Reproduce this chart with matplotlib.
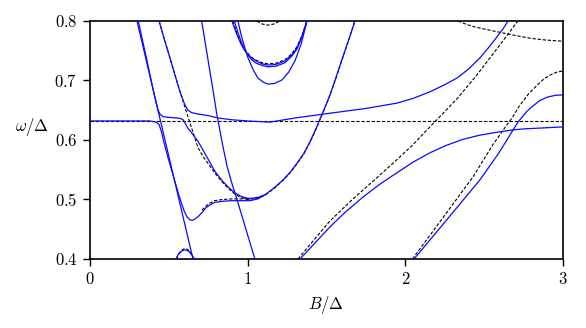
import matplotlib
matplotlib.use("Agg")
import matplotlib.pyplot as plt
from matplotlib.ticker import FuncFormatter

plt.rcParams['mathtext.fontset'] = 'cm'
plt.rcParams['font.family'] = ['DejaVu Serif']

# ---- values (B/Delta, omega/Delta) ----
# dashed (uncoupled) branches
flat_B = [0.0, 3.0]
flat_w = [0.632, 0.632]

d2_B = [0.438, 0.507, 0.571, 0.630, 0.685, 0.720, 0.748, 0.793, 0.840, 0.880, 0.919, 0.960, 1.000,
        1.060, 1.110, 1.170, 1.224, 1.270, 1.313, 1.355, 1.395, 1.435, 1.471, 1.522, 1.560, 1.600, 1.640, 1.680]
d2_w = [0.800, 0.738, 0.681, 0.632, 0.587, 0.571, 0.561, 0.544, 0.529, 0.518, 0.509, 0.503, 0.500,
        0.502, 0.507, 0.519, 0.532, 0.545, 0.560, 0.576, 0.596, 0.619, 0.642, 0.675, 0.704, 0.736, 0.767, 0.800]

hump_d_B = [0.710, 0.735, 0.761, 0.790, 0.840, 0.900, 0.960, 1.015, 1.065]
hump_d_w = [0.482, 0.489, 0.494, 0.498, 0.500, 0.501, 0.501, 0.501, 0.504]

bump_d_B = [0.550, 0.560, 0.577, 0.595, 0.612, 0.630, 0.646, 0.658]
bump_d_w = [0.400, 0.408, 0.414, 0.417, 0.417, 0.414, 0.407, 0.400]

arc_d_B = [1.059, 1.091, 1.129, 1.167, 1.205]
arc_d_w = [0.800, 0.795, 0.793, 0.795, 0.800]

u_d_B = [0.905, 0.935, 0.963, 0.985, 1.015, 1.046, 1.090, 1.129, 1.180, 1.237, 1.280, 1.313, 1.345, 1.376]
u_d_w = [0.800, 0.777, 0.760, 0.751, 0.741, 0.735, 0.730, 0.728, 0.729, 0.735, 0.745, 0.757, 0.776, 0.800]

d4_B = [1.319, 1.420, 1.522, 1.660, 1.800, 1.930, 2.048, 2.137, 2.200, 2.330, 2.450, 2.580, 2.714]
d4_w = [0.400, 0.432, 0.464, 0.499, 0.532, 0.563, 0.592, 0.617, 0.634, 0.670, 0.708, 0.753, 0.800]

d5_B = [2.045, 2.240, 2.429, 2.555, 2.640, 2.682, 2.720, 2.780, 2.835, 2.880, 2.917, 2.960, 3.000]
d5_w = [0.400, 0.470, 0.538, 0.592, 0.624, 0.639, 0.656, 0.677, 0.692, 0.703, 0.709, 0.714, 0.716]

d6_B = [2.334, 2.390, 2.441, 2.510, 2.581, 2.690, 2.790, 2.890, 3.000]
d6_w = [0.800, 0.794, 0.790, 0.786, 0.782, 0.776, 0.771, 0.768, 0.766]

# solid (coupled) branches
s1_B = [0.298, 0.653]
s1_w = [0.800, 0.400]

s2_B = [0.000, 0.380, 0.420, 0.438, 0.452, 0.465, 0.495, 0.528, 0.555, 0.578, 0.598, 0.615, 0.632,
        0.648, 0.665, 0.685, 0.710, 0.735, 0.761, 0.790, 0.840, 0.900, 0.960, 1.015, 1.065, 1.110,
        1.170, 1.224, 1.270, 1.313, 1.355, 1.395, 1.435, 1.471, 1.500, 1.522, 1.560, 1.600, 1.640, 1.680]
s2_w = [0.632, 0.632, 0.630, 0.626, 0.615, 0.600, 0.570, 0.540, 0.515, 0.495, 0.480, 0.471, 0.466,
        0.465, 0.467, 0.471, 0.478, 0.486, 0.491, 0.495, 0.497, 0.498, 0.498, 0.498, 0.501, 0.508,
        0.520, 0.533, 0.546, 0.561, 0.577, 0.597, 0.620, 0.643, 0.661, 0.676, 0.705, 0.737, 0.768, 0.800]

x_B = [0.306, 0.360, 0.400, 0.420, 0.432, 0.445, 0.465, 0.500, 0.550, 0.575, 0.590, 0.602, 0.620,
       0.645, 0.687, 0.740, 0.793, 0.840, 0.880, 0.919, 0.960, 1.000, 1.025, 1.060, 1.110]
x_w = [0.800, 0.735, 0.685, 0.662, 0.650, 0.643, 0.639, 0.638, 0.637, 0.636, 0.634, 0.629, 0.620,
       0.612, 0.597, 0.572, 0.547, 0.531, 0.520, 0.511, 0.505, 0.502, 0.502, 0.503, 0.508]

th_B = [0.438, 0.470, 0.507, 0.540, 0.571, 0.600, 0.621, 0.645, 0.678, 0.750, 0.812, 0.900, 1.000,
        1.141, 1.300, 1.522, 1.750, 1.947, 2.050, 2.156, 2.250, 2.327, 2.400, 2.473, 2.530, 2.580,
        2.620, 2.651]
th_w = [0.800, 0.770, 0.738, 0.708, 0.681, 0.660, 0.650, 0.646, 0.644, 0.641, 0.637, 0.634, 0.632,
        0.630, 0.637, 0.645, 0.653, 0.662, 0.670, 0.681, 0.693, 0.704, 0.719, 0.738, 0.756, 0.773,
        0.787, 0.800]

s3_B = [0.708, 0.730, 0.755, 0.780, 0.803, 0.840, 0.870, 0.900, 0.930, 0.964, 1.000, 1.046]
s3_w = [0.800, 0.765, 0.724, 0.684, 0.645, 0.593, 0.555, 0.527, 0.502, 0.472, 0.440, 0.400]

bump_B = [0.545, 0.558, 0.575, 0.595, 0.612, 0.630, 0.648, 0.662]
bump_w = [0.400, 0.407, 0.412, 0.415, 0.415, 0.412, 0.406, 0.400]

uu_B = [0.900, 0.930, 0.960, 0.983, 1.015, 1.046, 1.090, 1.129, 1.180, 1.237, 1.280, 1.313, 1.345, 1.376]
uu_w = [0.800, 0.778, 0.760, 0.750, 0.740, 0.734, 0.728, 0.726, 0.727, 0.733, 0.743, 0.755, 0.775, 0.800]

uu2_B = [0.915, 0.945, 0.972, 0.995, 1.025, 1.055, 1.095, 1.129, 1.180, 1.237, 1.280, 1.313, 1.345, 1.376]
uu2_w = [0.800, 0.775, 0.756, 0.745, 0.735, 0.729, 0.725, 0.723, 0.724, 0.730, 0.741, 0.753, 0.774, 0.800]

ul_B = [0.938, 0.960, 0.985, 1.002, 1.035, 1.065, 1.100, 1.129, 1.170, 1.218, 1.260, 1.300, 1.340, 1.376]
ul_w = [0.800, 0.775, 0.752, 0.738, 0.718, 0.704, 0.697, 0.694, 0.695, 0.701, 0.714, 0.733, 0.762, 0.800]

b4_B = [1.332, 1.420, 1.522, 1.620, 1.731, 1.840, 1.947, 2.050, 2.160, 2.260, 2.365, 2.470, 2.581,
        2.682, 2.770, 2.853, 3.000]
b4_w = [0.400, 0.425, 0.454, 0.479, 0.504, 0.526, 0.545, 0.563, 0.579, 0.591, 0.601, 0.608, 0.613,
        0.617, 0.619, 0.620, 0.622]

b5_B = [2.055, 2.260, 2.473, 2.590, 2.714, 2.770, 2.809, 2.850, 2.900, 2.950, 3.000]
b5_w = [0.400, 0.465, 0.533, 0.577, 0.630, 0.648, 0.657, 0.666, 0.672, 0.675, 0.676]

dashed = [(flat_B, flat_w), (d2_B, d2_w), (hump_d_B, hump_d_w), (bump_d_B, bump_d_w),
          (arc_d_B, arc_d_w), (u_d_B, u_d_w), (d4_B, d4_w), (d5_B, d5_w), (d6_B, d6_w)]
solid = [(s1_B, s1_w), (s2_B, s2_w), (x_B, x_w), (th_B, th_w), (s3_B, s3_w), (bump_B, bump_w),
         (uu_B, uu_w), (uu2_B, uu2_w), (ul_B, ul_w), (b4_B, b4_w), (b5_B, b5_w)]

fig = plt.figure(figsize=(5.86, 3.28), dpi=100)
ax = fig.add_axes([0.1536, 0.2104, 0.8072, 0.7256])

for B, w in dashed:
    ax.plot(B, w, color='k', lw=0.8, dashes=(3, 1.6), zorder=2)
for B, w in solid:
    ax.plot(B, w, color='#0a0aff', lw=0.9, zorder=3)

ax.set_xlim(0, 3)
ax.set_ylim(0.4, 0.8)
ax.set_xticks([0, 1, 2, 3])
ax.set_yticks([0.4, 0.5, 0.6, 0.7, 0.8])
ax.xaxis.set_major_formatter(FuncFormatter(lambda v, p: r'$%g$' % v))
ax.yaxis.set_major_formatter(FuncFormatter(lambda v, p: r'$%.1f$' % v))
ax.tick_params(direction='out', length=5, width=1.0, labelsize=12, pad=4)
for sp in ax.spines.values():
    sp.set_linewidth(1.2)

ax.set_xlabel(r'$B/\Delta$', fontsize=12)
ax.set_ylabel(r'$\omega/\Delta$', fontsize=12, rotation=0, ha='center', va='center')
ax.yaxis.set_label_coords(-0.123, 0.555)

fig.savefig('out.png', dpi=100)
